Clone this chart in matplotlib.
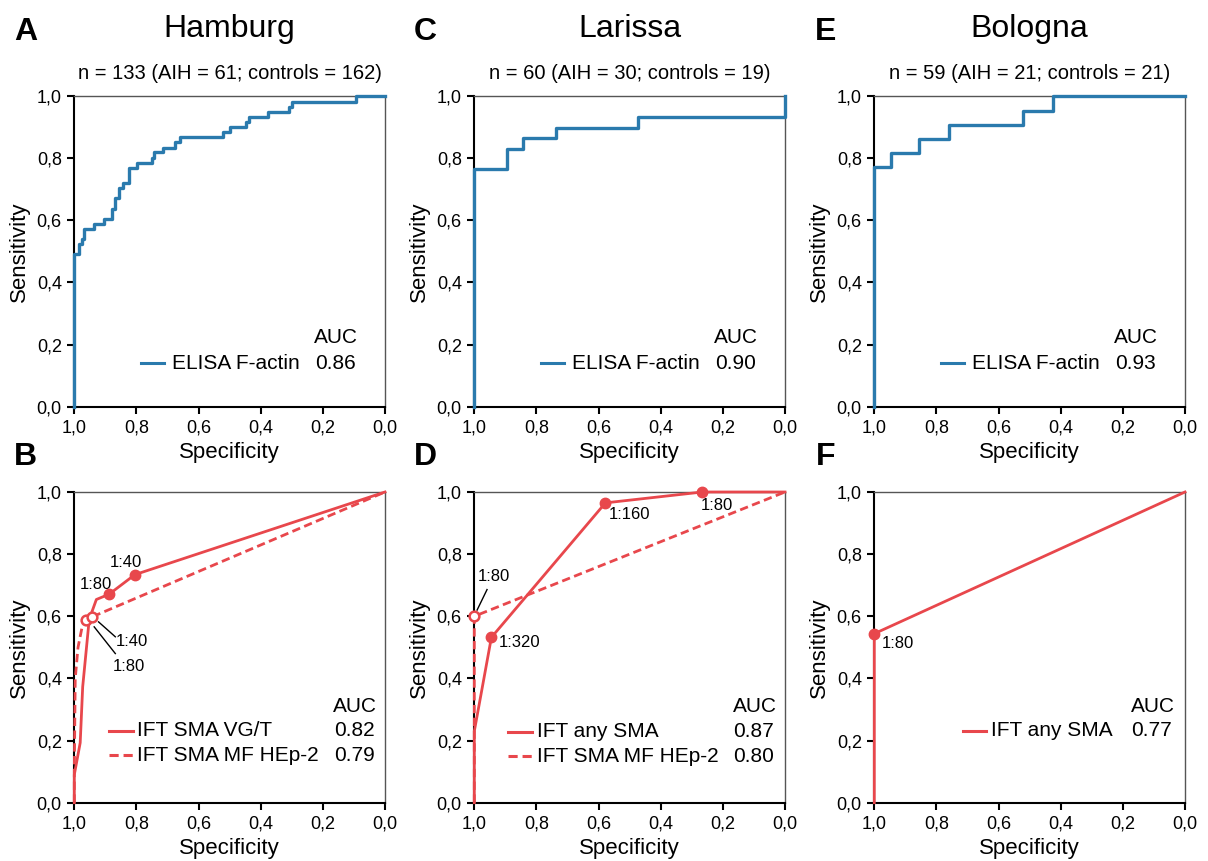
import matplotlib.pyplot as plt
from matplotlib.ticker import FuncFormatter

plt.rcParams['font.family'] = ['Liberation Sans', 'DejaVu Sans']

BLUE = '#2a7aad'
RED = '#e8474c'

# ELISA F-actin ROC (specificity, sensitivity) corner points
spec_A = [1.0, 1.0, 0.985, 0.974, 0.968, 0.936, 0.903, 0.880, 0.869, 0.856, 0.842, 0.824, 0.799,
          0.751, 0.744, 0.714, 0.676, 0.660, 0.523, 0.499, 0.448, 0.437, 0.376, 0.309, 0.300, 0.093, 0.0]
sens_A = [0.0, 0.490, 0.523, 0.539, 0.572, 0.588, 0.605, 0.637, 0.671, 0.703, 0.719, 0.768, 0.785,
          0.801, 0.819, 0.834, 0.851, 0.867, 0.883, 0.900, 0.916, 0.932, 0.948, 0.966, 0.981, 1.0, 1.0]
spec_C = [1.0, 1.0, 0.894, 0.842, 0.736, 0.473, 0.0]
sens_C = [0.0, 0.765, 0.831, 0.864, 0.897, 0.931, 1.0]
spec_E = [1.0, 1.0, 0.947, 0.855, 0.759, 0.520, 0.426, 0.0]
sens_E = [0.0, 0.770, 0.815, 0.862, 0.907, 0.952, 1.0, 1.0]

# IFT curves
spec_B_vgt = [1.0, 1.0, 0.981, 0.973, 0.952, 0.929, 0.888, 0.805, 0.0]
sens_B_vgt = [0.0, 0.09, 0.193, 0.373, 0.59, 0.654, 0.671, 0.734, 1.0]
spec_B_hep = [1.0, 1.0, 0.997, 0.988, 0.976, 0.962, 0.943, 0.0]
sens_B_hep = [0.0, 0.10, 0.40, 0.50, 0.56, 0.589, 0.598, 1.0]
spec_D_any = [1.0, 1.0, 0.945, 0.578, 0.266, 0.0]
sens_D_any = [0.0, 0.23, 0.532, 0.965, 1.0, 1.0]
spec_D_hep = [1.0, 1.0, 0.0]
sens_D_hep = [0.0, 0.600, 1.0]
spec_F_any = [1.0, 1.0, 0.0]
sens_F_any = [0.0, 0.544, 1.0]

# titre markers
mk_B_vgt = [(0.888, 0.671), (0.805, 0.734)]
mk_B_hep = [(0.962, 0.589), (0.943, 0.598)]
mk_D_any = [(0.945, 0.532), (0.578, 0.965), (0.266, 1.0)]
mk_D_hep = [(1.0, 0.600)]
mk_F_any = [(1.0, 0.544)]

cities = ['Hamburg', 'Larissa', 'Bologna']
subtitles = ['n = 133 (AIH = 61; controls = 162)',
             'n = 60 (AIH = 30; controls = 19)',
             'n = 59 (AIH = 21; controls = 21)']
auc_elisa = ['0.86', '0.90', '0.93']

fig = plt.figure(figsize=(12.08, 8.61), dpi=100)
W, H = 1208, 861
lefts = [74.3, 474.3, 874.3]
aw = 310.7
top_bottom, bot_bottom = 406.7, 802.7


def make_ax(xpx, ybot):
    ax = fig.add_axes([xpx / W, (H - ybot) / H, aw / W, aw / H])
    ax.set_xlim(1, 0)
    ax.set_ylim(0, 1)
    ax.set_xticks([1.0, 0.8, 0.6, 0.4, 0.2, 0.0])
    ax.set_yticks([0.0, 0.2, 0.4, 0.6, 0.8, 1.0])
    fmt = FuncFormatter(lambda v, p: f'{v:.1f}'.replace('.', ','))
    ax.xaxis.set_major_formatter(fmt)
    ax.yaxis.set_major_formatter(fmt)
    ax.tick_params(direction='out', length=5, width=1.5, labelsize=13, pad=4, color='black')
    for s in ['left', 'bottom']:
        ax.spines[s].set_linewidth(1.5)
        ax.spines[s].set_color('black')
    for s in ['top', 'right']:
        ax.spines[s].set_linewidth(1.0)
        ax.spines[s].set_color('#555555')
    ax.set_xlabel('Specificity', fontsize=16, labelpad=4)
    ax.set_ylabel('Sensitivity', fontsize=16, labelpad=5)
    return ax


def legend_block(ax, rows, x_line, x_text, x_val, y_rows, x_auc, y_auc):
    ax.text(x_auc, y_auc, 'AUC', transform=ax.transAxes, fontsize=15, va='center', ha='left')
    for (lab, auc, ls, col), y in zip(rows, y_rows):
        ax.plot(x_line, [y, y], transform=ax.transAxes, color=col, lw=2.2, ls=ls, clip_on=False)
        ax.text(x_text, y, lab, transform=ax.transAxes, fontsize=15, va='center', ha='left')
        ax.text(x_val, y, auc, transform=ax.transAxes, fontsize=15, va='center', ha='left')


top_spec = [spec_A, spec_C, spec_E]
top_sens = [sens_A, sens_C, sens_E]
letters_top = ['A', 'C', 'E']
letters_bot = ['B', 'D', 'F']

for i in range(3):
    ax = make_ax(lefts[i], top_bottom)
    ax.step(top_spec[i], top_sens[i], where='post', color=BLUE, lw=2.4, clip_on=False, zorder=3)
    legend_block(ax, [('ELISA F-actin', auc_elisa[i], '-', BLUE)],
                 [0.215, 0.29], 0.313, 0.775, [0.140], 0.772, 0.222)
    cx = (lefts[i] + aw / 2) / W
    fig.text(cx, 1 - 36.7 / H, cities[i], fontsize=23, ha='center', va='baseline')
    fig.text(cx, 1 - 79.3 / H, subtitles[i], fontsize=14.5, ha='center', va='baseline')
    fig.text((lefts[i] - 49) / W, 1 - 32 / H, letters_top[i], fontsize=23, fontweight='bold',
             ha='center', va='center')
    fig.text((lefts[i] - 49) / W, 1 - 457 / H, letters_bot[i], fontsize=23, fontweight='bold',
             ha='center', va='center')

lab_kw = dict(fontsize=12, va='center')
open_kw = dict(marker='o', ms=7, mfc='white', mec=RED, mew=1.8, ls='none', clip_on=False, zorder=5)
fill_kw = dict(marker='o', ms=7.5, color=RED, ls='none', clip_on=False, zorder=5)

# B: Hamburg IFT
axB = make_ax(lefts[0], bot_bottom)
axB.plot(spec_B_vgt, sens_B_vgt, color=RED, lw=2.0, clip_on=False, zorder=3)
axB.plot(spec_B_hep, sens_B_hep, color=RED, lw=2.0, ls=(0, (3, 1.6)), clip_on=False, zorder=3)
axB.plot(*zip(*mk_B_vgt), **fill_kw)
axB.plot(*zip(*mk_B_hep), **open_kw)
axB.text(0.931, 0.703, '1:80', ha='center', **lab_kw)
axB.text(0.835, 0.772, '1:40', ha='center', **lab_kw)
axB.plot([0.922, 0.868], [0.582, 0.534], color='black', lw=1)
axB.plot([0.936, 0.868], [0.566, 0.480], color='black', lw=1)
axB.text(0.866, 0.518, '1:40', ha='left', **lab_kw)
axB.text(0.877, 0.437, '1:80', ha='left', **lab_kw)
legend_block(axB, [('IFT SMA VG/T', '0.82', '-', RED), ('IFT SMA MF HEp-2', '0.79', (0, (3, 1.6)), RED)],
             [0.113, 0.188], 0.203, 0.836, [0.232, 0.153], 0.833, 0.311)

# D: Larissa IFT
axD = make_ax(lefts[1], bot_bottom)
axD.plot(spec_D_any, sens_D_any, color=RED, lw=2.0, clip_on=False, zorder=3)
axD.plot(spec_D_hep, sens_D_hep, color=RED, lw=2.0, ls=(0, (3, 1.6)), clip_on=False, zorder=3)
axD.plot(*zip(*mk_D_any), **fill_kw)
axD.plot(*zip(*mk_D_hep), **open_kw)
axD.plot([0.991, 0.959], [0.62, 0.686], color='black', lw=1)
axD.text(0.936, 0.727, '1:80', ha='center', **lab_kw)
axD.text(0.922, 0.515, '1:320', ha='left', **lab_kw)
axD.text(0.567, 0.928, '1:160', ha='left', **lab_kw)
axD.text(0.272, 0.955, '1:80', ha='left', **lab_kw)
legend_block(axD, [('IFT any SMA', '0.87', '-', RED), ('IFT SMA MF HEp-2', '0.80', (0, (3, 1.6)), RED)],
             [0.109, 0.185], 0.201, 0.833, [0.228, 0.150], 0.833, 0.311)

# F: Bologna IFT
axF = make_ax(lefts[2], bot_bottom)
axF.plot(spec_F_any, sens_F_any, color=RED, lw=2.0, clip_on=False, zorder=3)
axF.plot(*zip(*mk_F_any), **fill_kw)
axF.text(0.976, 0.514, '1:80', ha='left', **lab_kw)
legend_block(axF, [('IFT any SMA', '0.77', '-', RED)],
             [0.285, 0.36], 0.376, 0.828, [0.232], 0.825, 0.311)

fig.savefig('out.png', dpi=100)
